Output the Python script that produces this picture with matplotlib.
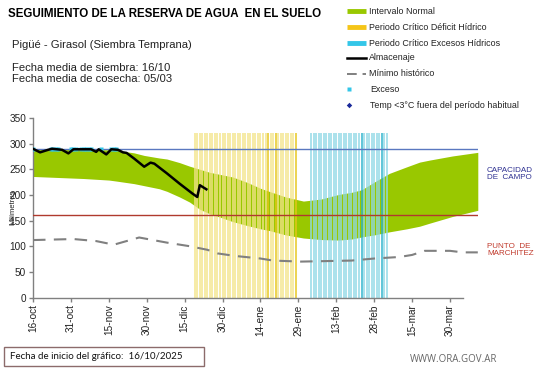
import matplotlib
matplotlib.use("Agg")
import matplotlib.pyplot as plt
from matplotlib.lines import Line2D
from matplotlib.patches import Rectangle
import numpy as np

# ---------------- data (days since 16-oct) ----------------
tick_days = [0, 15, 30, 45, 60, 75, 90, 105, 120, 135, 150, 165]
tick_labels = ["16-oct", "31-oct", "15-nov", "30-nov", "15-dic", "30-dic",
               "14-ene", "29-ene", "13-feb", "28-feb", "15-mar", "30-mar"]

band_days = [0, 10, 20, 30, 33, 40, 44, 50, 53, 58, 62, 66, 70, 75, 79, 85, 90, 94,
             100, 107, 114, 121, 126, 130, 135, 141, 148, 153, 157, 166, 176]
band_upper = [290, 290, 289, 288, 287, 282, 277, 272, 270, 263, 256, 250, 244, 239, 235, 224, 213, 206,
              196, 188, 192, 201, 205, 210, 225, 242, 255, 264, 268, 276, 283]
band_lower = [236, 234, 232, 229, 227, 222, 218, 212, 207, 196, 186, 172, 163, 155, 148, 140, 134, 130,
              122, 116, 113, 112, 114, 118, 122, 128, 134, 139, 145, 158, 170]

minh_days = [0, 16, 25, 32, 37, 42, 53, 62, 69, 73, 80, 90, 95, 106, 116, 126, 135, 145, 150, 155, 165, 170, 176]
minh_vals = [112, 114, 110, 103, 110, 117, 107, 100, 93, 86, 81, 76, 72, 70, 71, 72, 76, 79, 83, 91, 91, 88, 88]

st_days = [0, 2.8, 6, 7.5, 11.5, 14, 16, 23, 25, 26, 29, 31, 33.6, 35.6, 37, 40, 44, 46.5, 48,
           53, 58, 63, 65, 66, 68.6]
st_vals = [290, 283, 288, 290, 288, 281, 289, 289, 284, 289, 279, 289, 288, 283, 282, 271, 255, 263, 261,
           242, 222, 203, 196, 219, 211]

exceso_days = [0, 7, 8, 9, 10, 15, 16, 17, 19, 20, 21, 22, 23, 27, 31, 32, 33]
exceso_vals = [290] * len(exceso_days)

deficit_period = (64, 104)
exceso_period = (110, 140)
deficit_dark = [93, 96, 104]
exceso_dark = [130, 138]
bar_top = 320

cap_campo = 290
punto_march = 160

# ---------------- figure ----------------
W, H = 541, 368
fig = plt.figure(figsize=(W / 100, H / 100), dpi=100)
plt.rcParams['font.family'] = ['Liberation Sans', 'DejaVu Sans']

x0, x1 = 33, 477.8
y0, y1 = 297.5, 118
ax = fig.add_axes([x0 / W, 1 - y0 / H, (x1 - x0) / W, (y0 - y1) / H])
ax.set_xlim(0, 176)
ax.set_ylim(0, 350)

# green band
ax.fill_between(band_days, band_lower, band_upper, color='#99c800', linewidth=0, zorder=1)

# critical periods: one line per day
for d in range(deficit_period[0], deficit_period[1] + 1):
    c = '#e6c619' if d in deficit_dark else '#f3e48a'
    ax.plot([d, d], [0, bar_top], color=c, lw=1.25, alpha=0.85, zorder=2, solid_capstyle='butt')
for d in range(exceso_period[0], exceso_period[1] + 1):
    c = '#2bb3cc' if d in exceso_dark else '#8fd8e6'
    ax.plot([d, d], [0, bar_top], color=c, lw=1.25, alpha=0.85, zorder=2, solid_capstyle='butt')

# reference lines
ax.axhline(cap_campo, color='#5a78c0', lw=1.0, zorder=3)
ax.axhline(punto_march, color='#b03a2e', lw=1.0, zorder=3)

# minimum historic
ax.plot(minh_days, minh_vals, color='#808080', lw=1.5, dashes=(6, 4), zorder=4)

# exceso markers
ax.plot(exceso_days, exceso_vals, ls='none', marker='s', ms=3.0, color='#33c6e8', mec='none', zorder=5)

# storage
ax.plot(st_days, st_vals, color='black', lw=1.8, zorder=6)

# axes styling
for s in ['top', 'right']:
    ax.spines[s].set_visible(False)
for s in ['left', 'bottom']:
    ax.spines[s].set_color('#808080')
    ax.spines[s].set_linewidth(1.0)
ax.spines['bottom'].set_bounds(0, 170)
ax.set_yticks(range(0, 351, 50))
ax.set_xticks(tick_days)
ax.set_xticklabels(tick_labels, rotation=90)
ax.tick_params(axis='both', colors='#808080', labelcolor='#222222', labelsize=7.2, length=3, width=1)
ax.tick_params(axis='y', pad=2)
ax.tick_params(axis='x', pad=2)
ax.set_ylabel('Milímetros', fontsize=5.5, labelpad=-5, color='#222222')

# ---------------- texts ----------------
def ft(x, y, s, **kw):
    fig.text(x / W, 1 - y / H, s, **kw)

ft(8, 14, "SEGUIMIENTO DE LA RESERVA DE AGUA  EN EL SUELO", fontsize=8.3, fontweight='bold', va='center')
ft(12, 45, "Pigüé - Girasol (Siembra Temprana)", fontsize=8.1, va='center', color='#222222')
ft(12, 68, "Fecha media de siembra: 16/10", fontsize=8.1, va='center', color='#222222')
ft(12, 79, "Fecha media de cosecha: 05/03", fontsize=8.1, va='center', color='#222222')

# legend (manual)
lx0, lx1, tx = 347, 366, 369
legend_items = [
    ("patch", '#99c800', "Intervalo Normal", 11),
    ("patch", '#f5c518', "Periodo Crítico Déficit Hídrico", 27),
    ("patch", '#33c6e8', "Periodo Crítico Excesos Hídricos", 43),
    ("line", 'black', "Almacenaje", 58),
    ("dash", '#808080', "Mínimo histórico", 74),
    ("dot", '#33c6e8', "Exceso", 89),
    ("diamond", '#1a2a9a', "Temp <3°C fuera del período habitual", 105),
]
for kind, col, label, yy in legend_items:
    yf = 1 - yy / H
    if kind == "patch":
        fig.add_artist(Line2D([lx0 / W, lx1 / W], [yf, yf], color=col, lw=3.5, solid_capstyle='butt'))
    elif kind == "line":
        fig.add_artist(Line2D([lx0 / W, lx1 / W], [yf, yf], color=col, lw=1.8))
    elif kind == "dash":
        fig.add_artist(Line2D([lx0 / W, lx1 / W], [yf, yf], color=col, lw=1.4, dashes=(5, 3)))
    elif kind == "dot":
        fig.add_artist(Line2D([(lx0 + 2) / W], [yf], marker='s', ms=2.2, color=col, mec='none', ls='none'))
    elif kind == "diamond":
        fig.add_artist(Line2D([(lx0 + 2) / W], [yf], marker='D', ms=2.8, color=col, mec='none', ls='none'))
    ft(tx if kind not in ("dot", "diamond") else tx + 1, yy, label, fontsize=6.4, va='center', color='#222222')

# right labels
ft(487, 174, "CAPACIDAD\nDE  CAMPO", fontsize=5.8, va='center', color='#2e3192', linespacing=1.05)
ft(487, 250, "PUNTO  DE\nMARCHITEZ", fontsize=5.8, va='center', color='#c0392b', linespacing=1.05)

# bottom box
fig.add_artist(Rectangle((4 / W, 1 - 366 / H), 200 / W, 19 / H, transform=fig.transFigure,
                         fill=False, edgecolor='#8c6b6b', lw=1.0))
fig.text(10 / W, 1 - 356.5 / H, "Fecha de inicio del gráfico:  16/10/2025", fontsize=7,
         va='center', family=['Lato', 'DejaVu Sans'], color='#111111')
fig.text(410 / W, 1 - 360 / H, "WWW.ORA.GOV.AR", fontsize=7, va='center',
         family=['Open Sans', 'DejaVu Sans'], color='#666666')

fig.savefig("out.png", dpi=100)
